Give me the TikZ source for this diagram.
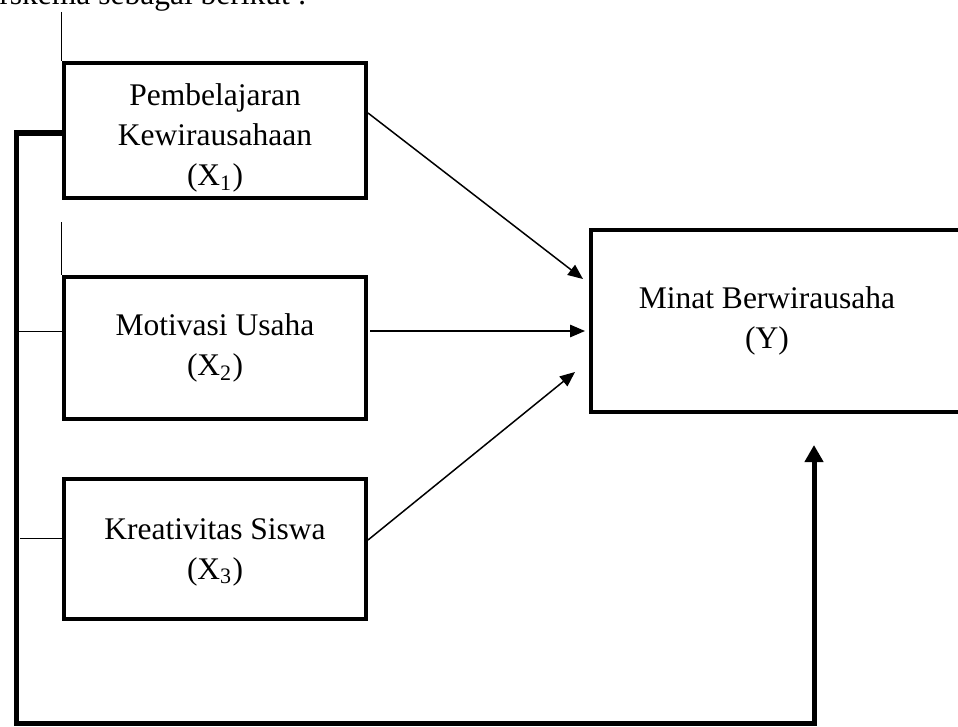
\documentclass[tikz,border=0pt]{standalone}
\usepackage{fontspec}
\setmainfont{Liberation Serif}
\usetikzlibrary{arrows.meta}

\begin{document}
\begin{tikzpicture}[x=0.4pt, y=-0.4pt, line width=0.4pt,
  txt/.style={font=\fontsize{12.6}{16}\selectfont},
  varbox/.style={txt, draw, line width=1.6pt, minimum width=120.8pt, align=center, inner sep=0pt},
  thinarrow/.style={line width=0.6pt, -{Triangle[length=6pt, width=5pt]}},
  thickline/.style={line width=2pt, -{Triangle[length=6.8pt, width=7.2pt]}}]

% fix picture size
\clip (0,0) rectangle (958,726);

% draw caption line
\node[txt, anchor=base west, inner sep=0pt] (caption) at (-1, 5) {rskema sebagai berikut :};

% draw variable boxes
\node[varbox, minimum height=54pt] (x1) at (215, 130.5) {\rule{0pt}{15pt}Pembelajaran\\Kewirausahaan\\(X\textsubscript{1})};
\node[varbox, minimum height=56.8pt] (x2) at (215, 348) {Motivasi Usaha\\(X\textsubscript{2})};
\node[varbox, minimum height=56pt] (x3) at (215, 549) {\rule{0pt}{11pt}Kreativitas Siswa\\(X\textsubscript{3})};

% draw result box
\node[draw, line width=1.6pt, minimum width=163.6pt, minimum height=72.8pt, inner sep=0pt] (ybox) at (795.5, 321) {};
\node[txt, align=center] (ytext) at (767, 321) {Minat Berwirausaha\\(Y)};

% draw thin side lines
\coordinate (t1) at (64, 12);
\coordinate (t2) at (64, 222);
\coordinate (h2) at (18, 331);
\coordinate (h3) at (20, 538);
\draw (t1 -| x1.north west) -- (x1.north west);
\draw (t2 -| x2.north west) -- (x2.north west);
\draw (h2) -- (h2 -| x2.west);
\draw (h3) -- (h3 -| x3.west);

% draw arrows into Y
\coordinate (a1s) at (366, 113);
\coordinate (a1e) at (583, 279);
\coordinate (a2s) at (370, 331);
\coordinate (a2e) at (585, 331);
\coordinate (a3s) at (366, 540);
\coordinate (a3e) at (575, 372);
\draw[thinarrow] (a1s -| x1.east) -- (a1e);
\draw[thinarrow] (a2s) -- (a2e);
\draw[thinarrow] (a3s -| x3.east) -- (a3e);

% draw thick loop
\coordinate (c1) at (16, 133);
\coordinate (c2) at (16, 723);
\coordinate (c3) at (814, 723);
\coordinate (c4) at (814, 445);
\draw[thickline] (c1 -| x1.west) -- (c1) -- (c2) -- (c3) -- (c4);

\end{tikzpicture}
\end{document}
